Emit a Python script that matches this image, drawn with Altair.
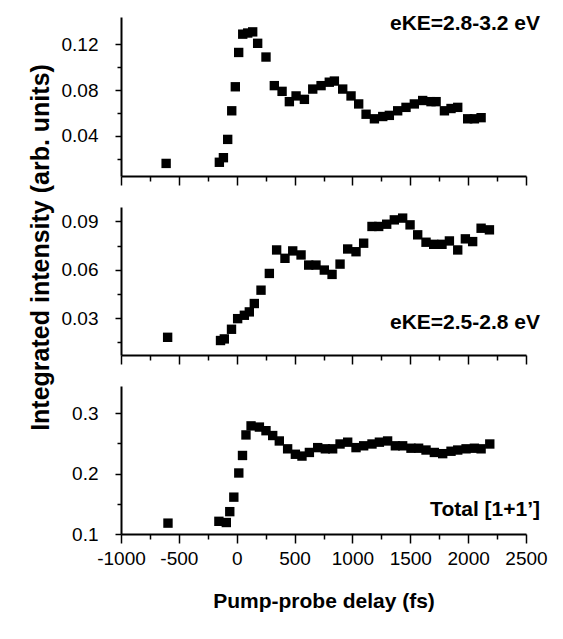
import altair as alt
import pandas as pd

# ---------------- data ----------------
x_top = [-610, -150, -115, -78, -43, -12, 17, 52, 95, 138, 181, 253, 325, 392, 455, 513, 585, 657,
         729, 800, 844, 916, 988, 1054, 1118, 1190, 1262, 1319, 1391, 1463, 1535, 1607, 1679, 1723,
         1795, 1852, 1910, 1996, 2054, 2112]
y_top = [0.016, 0.017, 0.021, 0.037, 0.062, 0.083, 0.113, 0.129, 0.130, 0.131, 0.121, 0.109, 0.084,
         0.079, 0.070, 0.075, 0.072, 0.081, 0.084, 0.087, 0.088, 0.081, 0.075, 0.068, 0.059, 0.055,
         0.057, 0.058, 0.062, 0.065, 0.068, 0.071, 0.070, 0.070, 0.062, 0.064, 0.065, 0.055, 0.055, 0.056]

x_mid = [-597, -140, -107, -45, 8, 66, 109, 152, 210, 282, 345, 417, 484, 556, 622, 685, 757, 824,
         893, 959, 1031, 1097, 1169, 1227, 1296, 1362, 1434, 1498, 1564, 1636, 1702, 1774, 1838,
         1910, 1976, 2039, 2112, 2184]
y_mid = [0.018, 0.016, 0.017, 0.023, 0.0296, 0.0317, 0.0338, 0.039, 0.0473, 0.0577, 0.0723, 0.0671,
         0.0717, 0.0692, 0.0629, 0.0629, 0.0598, 0.0571, 0.0635, 0.0729, 0.0712, 0.0765, 0.0869,
         0.0869, 0.0883, 0.091, 0.0921, 0.0879, 0.0817, 0.0771, 0.0758, 0.0758, 0.0779, 0.0723,
         0.0792, 0.0775, 0.0858, 0.0848]

x_bot = [-594, -154, -90, -60, -25, 18, 50, 80, 124, 196, 253, 311, 368, 440, 507, 564, 628, 700,
         766, 829, 893, 959, 1031, 1097, 1169, 1233, 1304, 1371, 1434, 1506, 1572, 1636, 1708, 1780,
         1852, 1910, 1982, 2054, 2112, 2187]
y_bot = [0.118, 0.121, 0.119, 0.137, 0.161, 0.201, 0.23, 0.264, 0.279, 0.277, 0.271, 0.263, 0.254,
         0.241, 0.232, 0.229, 0.235, 0.243, 0.241, 0.241, 0.249, 0.252, 0.243, 0.246, 0.249, 0.252,
         0.254, 0.246, 0.246, 0.242, 0.242, 0.239, 0.235, 0.233, 0.237, 0.239, 0.241, 0.242, 0.241, 0.249]

x_ticks = [-1000, -750, -500, -250, 0, 250, 500, 750, 1000, 1250, 1500, 1750, 2000, 2250, 2500]
top_ticks = [0.02, 0.04, 0.06, 0.08, 0.10, 0.12]
mid_ticks = [0.015, 0.03, 0.045, 0.06, 0.075, 0.09]
bot_ticks = [0.1, 0.15, 0.2, 0.25, 0.3]

labels = ["eKE=2.8-3.2 eV", "eKE=2.5-2.8 eV", "Total [1+1\u2019]"]

FONT = "Liberation Sans"
W = 405
LBL = 19


def x_axis(show_labels, title=None):
    kw = dict(
        values=x_ticks,
        labelExpr="datum.value % 500 === 0 ? '' + datum.value : ''",
        labels=show_labels,
        labelOverlap=False,
        labelFlush=False,
        tickSize={"condition": {"test": "datum.value % 500 === 0", "value": 9}, "value": 5},
        tickWidth=1.5,
        domainWidth=2,
        domainColor="black",
        tickColor="black",
        grid=False,
        labelFontSize=LBL,
        labelFont=FONT,
        labelColor="black",
        labelPadding=6,
    )
    if title:
        kw.update(title=title, titleFontSize=21, titleFont=FONT, titleFontWeight="bold",
                  titleColor="black", titlePadding=22)
    else:
        kw.update(title=None)
    return alt.Axis(**kw)


def y_axis(vals, test, fmt, title=None, title_y=None):
    kw = dict(
        values=vals,
        format=fmt,
        labelExpr="(" + test + ") ? datum.label : ''",
        labelOverlap=False,
        tickSize={"condition": {"test": test, "value": 6}, "value": 4},
        tickWidth=1.5,
        domainWidth=2,
        domainColor="black",
        tickColor="black",
        grid=False,
        labelFontSize=LBL,
        labelFont=FONT,
        labelColor="black",
        labelPadding=17,
    )
    if title:
        kw.update(title=title, titleFontSize=25, titleFont=FONT, titleFontWeight="bold",
                  titleColor="black", titleY=title_y, titleX=-68, titleBaseline="bottom",
                  titleAngle=270)
    else:
        kw.update(title=None)
    return alt.Axis(**kw)


def panel(xs, ys, ydom, yax, xax, height, label, lx, ly):
    df = pd.DataFrame({"delay": xs, "value": ys})
    pts = alt.Chart(df).mark_point(shape="square", filled=True, color="black", size=88, opacity=1).encode(
        x=alt.X("delay:Q", scale=alt.Scale(domain=[-1000, 2500], nice=False, zero=False), axis=xax),
        y=alt.Y("value:Q", scale=alt.Scale(domain=ydom, nice=False, zero=False), axis=yax),
    )
    txt = alt.Chart(pd.DataFrame({"t": [label]})).mark_text(
        font=FONT, fontSize=21, fontWeight="bold", align="right", baseline="middle", color="black"
    ).encode(x=alt.value(lx), y=alt.value(ly), text="t:N")
    return alt.layer(pts, txt).properties(width=W, height=height)


top = panel(x_top, y_top, [0.005, 0.144],
            y_axis(top_ticks, "abs(round(datum.value*100)) % 4 === 0", ".2f"),
            x_axis(False), 159, labels[0], 419, 7)
mid = panel(x_mid, y_mid, [0.007, 0.099],
            y_axis(mid_ticks, "round(datum.value*1000) % 30 === 0", ".2f",
                   title="Integrated intensity (arb. units)", title_y=40),
            x_axis(False), 148, labels[1], 419, 116)
bot = panel(x_bot, y_bot, [0.1, 0.345],
            y_axis(bot_ticks, "round(datum.value*100) % 10 === 0", ".1f"),
            x_axis(True, "Pump-probe delay (fs)"), 148, labels[2], 419, 124)

chart = alt.vconcat(top, mid, bot, spacing=31, bounds="flush").resolve_scale(y="independent").configure_view(
    stroke=None
).properties(padding={"left": 19, "top": 5, "right": 5, "bottom": 5}, background="white")

chart.save("out.html", embed_options={"renderer": "svg", "actions": False})
